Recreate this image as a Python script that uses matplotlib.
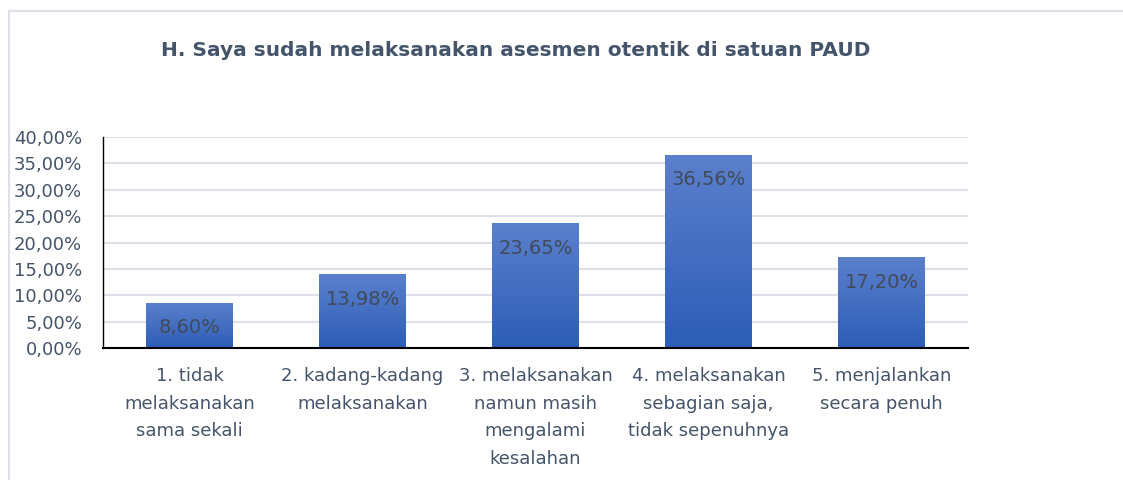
import numpy as np
import matplotlib
matplotlib.use('Agg')
import matplotlib.pyplot as plt
from matplotlib.colors import LinearSegmentedColormap
from matplotlib.ticker import FuncFormatter

# Data
title = 'H. Saya sudah melaksanakan asesmen otentik di satuan PAUD'
categories = ['1. tidak\nmelaksanakan\nsama sekali',
              '2. kadang-kadang\nmelaksanakan',
              '3. melaksanakan\nnamun masih\nmengalami\nkesalahan',
              '4. melaksanakan\nsebagian saja,\ntidak sepenuhnya',
              '5. menjalankan\nsecara penuh']
values = [0.0860, 0.1398, 0.2365, 0.3656, 0.1720]
value_labels = ['8,60%', '13,98%', '23,65%', '36,56%', '17,20%']
yticks = [0.0, 0.05, 0.10, 0.15, 0.20, 0.25, 0.30, 0.35, 0.40]

text_col = '#44546A'
grid_col = '#DDE1E7'
grad = LinearSegmentedColormap.from_list('bar', ['#2D5DB7', '#5B80CC'])

fig = plt.figure(figsize=(11.23, 4.8), dpi=100)
ax = fig.add_axes([103 / 1123, 1 - 348 / 480, 865 / 1123, 211 / 480])

x = np.arange(len(values))
bars = ax.bar(x, values, width=0.5, color='#4170C4', zorder=2)

# vertical gradient in each bar
g = np.linspace(0, 1, 256).reshape(-1, 1)
for b in bars:
    x0, y0 = b.get_x(), b.get_y()
    w, h = b.get_width(), b.get_height()
    im = ax.imshow(g, cmap=grad, origin='lower', aspect='auto',
                   extent=[x0, x0 + w, y0, y0 + h], zorder=2.5)
    im.set_clip_path(b)

for xi, v, lab in zip(x, values, value_labels):
    ax.annotate(lab, (xi, v), xytext=(0, -11), textcoords='offset points',
                ha='center', va='top', fontsize=14, color='#404A5A', zorder=4)

ax.set_xlim(-0.5, len(values) - 0.5)
ax.set_ylim(0, 0.40)
ax.set_yticks(yticks)
ax.yaxis.set_major_formatter(FuncFormatter(lambda v, p: f'{v * 100:.2f}%'.replace('.', ',')))
ax.set_xticks(x)
ax.set_xticklabels(categories, fontsize=13, color=text_col, linespacing=1.68, va='top')
ax.tick_params(axis='y', labelsize=13, colors=text_col, length=0, pad=15)
ax.tick_params(axis='x', length=0, pad=14)
ax.grid(axis='y', color=grid_col, lw=1.5, zorder=0)
ax.set_axisbelow(True)
for s in ['top', 'right']:
    ax.spines[s].set_visible(False)
ax.spines['left'].set_color('black')
ax.spines['left'].set_linewidth(1.0)
ax.spines['bottom'].set_color('black')
ax.spines['bottom'].set_linewidth(1.5)
ax.spines['bottom'].set_zorder(5)

fig.text(516 / 1123, 1 - 50 / 480, title, ha='center', va='center',
         fontsize=14.5, fontweight='bold', color=text_col)

# chart frame border
fig.add_artist(plt.Line2D([9 / 1123, 1], [1 - 11 / 480, 1 - 11 / 480], color=grid_col, lw=1.5))
fig.add_artist(plt.Line2D([9 / 1123, 9 / 1123], [0, 1 - 11 / 480], color=grid_col, lw=1.5))

fig.savefig('out.png', dpi=100)
